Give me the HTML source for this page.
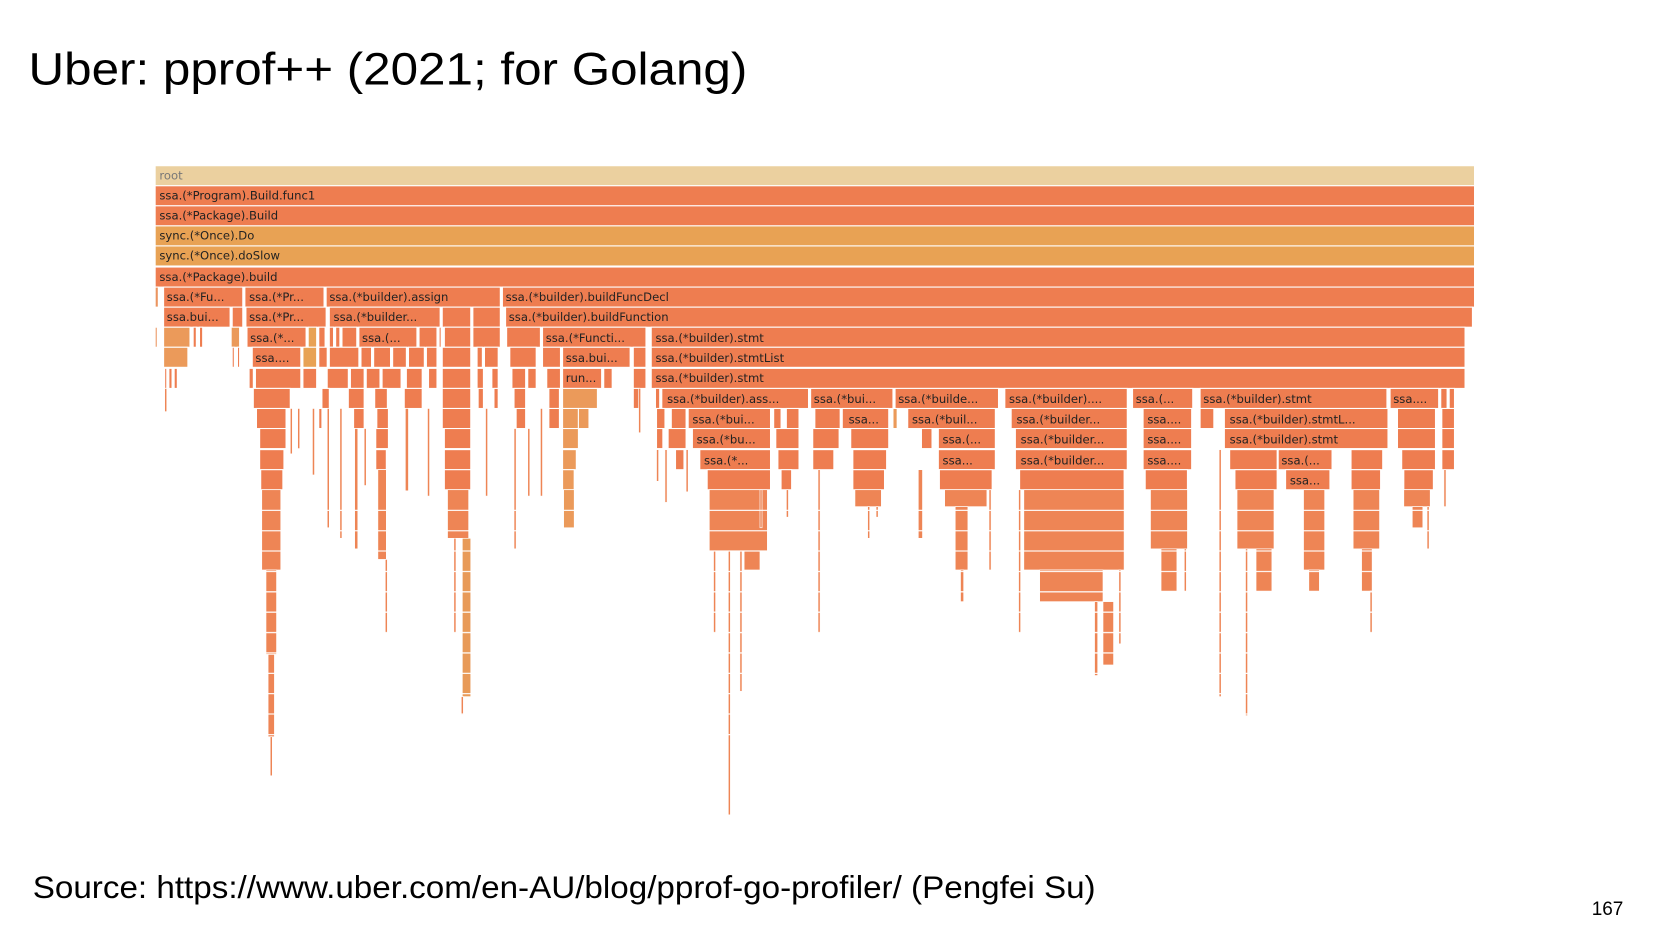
<!DOCTYPE html>
<html><head><meta charset="utf-8"><style>
html,body{margin:0;padding:0;background:#fff;width:1654px;height:931px;overflow:hidden}
#w{width:1560px;height:878px;transform:scale(1.0555);transform-origin:0 0}
svg{display:block}
.l{font-family:"DejaVu Sans",sans-serif;font-size:11px;fill:#222}
</style></head><body><div id="w">
<svg width="1560" height="878" viewBox="0 0 1560 878" xmlns="http://www.w3.org/2000/svg">
<text x="27" y="80" font-family="Liberation Sans, sans-serif" font-size="43" fill="#000" textLength="681" lengthAdjust="spacingAndGlyphs">Uber: pprof++ (2021; for Golang)</text>
<g stroke="#fff" stroke-width="1" fill="#ee7d50">
<rect x="147" y="157" width="1250" height="19" fill="#ebd09f"/>
<rect x="147" y="176" width="1250" height="19"/>
<rect x="147" y="195" width="1250" height="19"/>
<rect x="147" y="214" width="1250" height="19" fill="#e8a254"/>
<rect x="147" y="233" width="1250" height="19" fill="#e8a254"/>
<rect x="147" y="253" width="1250" height="19"/>
<rect x="147" y="272" width="3" height="19" fill="#eb9560"/><rect x="155" y="272" width="75" height="19"/><rect x="232" y="272" width="75" height="19"/><rect x="309" y="272" width="165" height="19"/><rect x="476" y="272" width="921" height="19"/>
<rect x="155" y="291" width="63" height="19"/><rect x="220" y="291" width="10" height="19"/><rect x="233" y="291" width="76" height="19"/><rect x="312" y="291" width="105" height="19"/><rect x="419" y="291" width="27" height="19"/><rect x="448" y="291" width="26" height="19"/><rect x="479" y="291" width="916" height="19"/>
<rect x="147" y="310" width="2" height="19" fill="#eb9560"/><rect x="155" y="310" width="25" height="19" fill="#eb9a5a"/><rect x="183" y="310" width="3" height="19"/><rect x="189" y="310" width="3" height="19"/><rect x="219" y="310" width="8" height="19" fill="#eb9a5a"/><rect x="234" y="310" width="56" height="19"/><rect x="292" y="310" width="8" height="19" fill="#e8a254"/><rect x="302" y="310" width="6" height="19"/><rect x="312" y="310" width="4" height="19"/><rect x="318" y="310" width="4" height="19"/><rect x="324" y="310" width="14" height="19"/><rect x="340" y="310" width="55" height="19"/><rect x="397" y="310" width="17" height="19"/><rect x="416" y="310" width="2" height="19"/><rect x="421" y="310" width="25" height="19"/><rect x="448" y="310" width="26" height="19"/><rect x="480" y="310" width="32" height="19"/><rect x="514" y="310" width="98" height="19"/><rect x="617" y="310" width="771" height="19"/>
<rect x="155" y="329" width="23" height="19" fill="#eb9a5a"/><rect x="220" y="329" width="2" height="19"/><rect x="225" y="329" width="2" height="19"/><rect x="239" y="329" width="46" height="19"/><rect x="287" y="329" width="13" height="19" fill="#e8a254"/><rect x="302" y="329" width="8" height="19"/><rect x="312" y="329" width="28" height="19"/><rect x="342" y="329" width="10" height="19"/><rect x="354" y="329" width="16" height="19"/><rect x="372" y="329" width="13" height="19"/><rect x="387" y="329" width="15" height="19"/><rect x="404" y="329" width="10" height="19"/><rect x="419" y="329" width="27" height="19"/><rect x="452" y="329" width="5" height="19"/><rect x="459" y="329" width="13" height="19"/><rect x="483" y="329" width="25" height="19"/><rect x="514" y="329" width="17" height="19"/><rect x="533" y="329" width="64" height="19"/><rect x="600" y="329" width="12" height="19"/><rect x="617" y="329" width="771" height="19"/>
<rect x="156" y="349" width="2" height="19"/><rect x="160" y="349" width="3" height="19"/><rect x="165" y="349" width="3" height="19"/><rect x="236" y="349" width="4" height="19"/><rect x="242" y="349" width="43" height="19"/><rect x="287" y="349" width="13" height="19"/><rect x="310" y="349" width="20" height="19"/><rect x="332" y="349" width="13" height="19"/><rect x="347" y="349" width="13" height="19"/><rect x="362" y="349" width="18" height="19"/><rect x="385" y="349" width="15" height="19"/><rect x="406" y="349" width="8" height="19"/><rect x="419" y="349" width="27" height="19"/><rect x="452" y="349" width="6" height="19"/><rect x="466" y="349" width="6" height="19"/><rect x="485" y="349" width="13" height="19"/><rect x="500" y="349" width="8" height="19"/><rect x="518" y="349" width="13" height="19"/><rect x="533" y="349" width="37" height="19"/><rect x="572" y="349" width="8" height="19"/><rect x="600" y="349" width="12" height="19"/><rect x="617" y="349" width="771" height="19"/>
<rect x="240" y="368" width="35" height="19"/><rect x="305" y="368" width="7" height="19"/><rect x="330" y="368" width="15" height="19"/><rect x="355" y="368" width="12" height="19"/><rect x="383" y="368" width="17" height="19"/><rect x="419" y="368" width="27" height="19"/><rect x="453" y="368" width="5" height="19"/><rect x="468" y="368" width="4" height="19"/><rect x="487" y="368" width="11" height="19"/><rect x="520" y="368" width="10" height="19"/><rect x="533" y="368" width="33" height="19" fill="#eb9a5a"/><rect x="600" y="368" width="6" height="19"/><rect x="621" y="368" width="4" height="19"/><rect x="627" y="368" width="139" height="19"/><rect x="768" y="368" width="78" height="19"/><rect x="848" y="368" width="98" height="19"/><rect x="952" y="368" width="116" height="19"/><rect x="1073" y="368" width="57" height="19"/><rect x="1137" y="368" width="177" height="19"/><rect x="1317" y="368" width="46" height="19"/><rect x="1365" y="368" width="6" height="19"/><rect x="1373" y="368" width="5" height="19"/>
<rect x="243" y="387" width="28" height="19"/><rect x="302" y="387" width="3" height="19"/><rect x="335" y="387" width="10" height="19"/><rect x="357" y="387" width="11" height="19"/><rect x="419" y="387" width="27" height="19"/><rect x="489" y="387" width="9" height="19"/><rect x="520" y="387" width="10" height="19"/><rect x="533" y="387" width="15" height="19" fill="#eb9a5a"/><rect x="548" y="387" width="10" height="19" fill="#eb9a5a"/><rect x="622" y="387" width="8" height="19"/><rect x="636" y="387" width="14" height="19"/><rect x="652" y="387" width="78" height="19"/><rect x="733" y="387" width="7" height="19"/><rect x="745" y="387" width="12" height="19"/><rect x="772" y="387" width="24" height="19"/><rect x="798" y="387" width="44" height="19"/><rect x="846" y="387" width="4" height="19" fill="#eb9a5a"/><rect x="860" y="387" width="83" height="19"/><rect x="958" y="387" width="110" height="19"/><rect x="1083" y="387" width="46" height="19"/><rect x="1137" y="387" width="13" height="19"/><rect x="1160" y="387" width="155" height="19"/><rect x="1324" y="387" width="36" height="19"/><rect x="1366" y="387" width="12" height="19"/>
<rect x="246" y="406" width="25" height="19"/><rect x="356" y="406" width="12" height="19"/><rect x="421" y="406" width="25" height="19"/><rect x="533" y="406" width="15" height="19" fill="#eb9a5a"/><rect x="622" y="406" width="6" height="19"/><rect x="633" y="406" width="17" height="19"/><rect x="656" y="406" width="74" height="19"/><rect x="735" y="406" width="22" height="19"/><rect x="770" y="406" width="25" height="19"/><rect x="806" y="406" width="36" height="19"/><rect x="873" y="406" width="10" height="19"/><rect x="889" y="406" width="54" height="19"/><rect x="962" y="406" width="106" height="19"/><rect x="1083" y="406" width="46" height="19"/><rect x="1160" y="406" width="155" height="19"/><rect x="1324" y="406" width="36" height="19"/><rect x="1366" y="406" width="12" height="19"/>
<rect x="246" y="426" width="23" height="19"/><rect x="356" y="426" width="10" height="19"/><rect x="421" y="426" width="25" height="19"/><rect x="533" y="426" width="13" height="19" fill="#eb9a5a"/><rect x="640" y="426" width="8" height="19"/><rect x="663" y="426" width="67" height="19"/><rect x="737" y="426" width="20" height="19"/><rect x="770" y="426" width="20" height="19"/><rect x="808" y="426" width="32" height="19"/><rect x="889" y="426" width="54" height="19"/><rect x="962" y="426" width="106" height="19"/><rect x="1083" y="426" width="46" height="19"/><rect x="1165" y="426" width="45" height="19"/><rect x="1211" y="426" width="51" height="19"/><rect x="1280" y="426" width="30" height="19"/><rect x="1328" y="426" width="32" height="19"/><rect x="1366" y="426" width="12" height="19"/>
<rect x="247" y="445" width="21" height="19"/><rect x="421" y="445" width="25" height="19"/><rect x="533" y="445" width="11" height="19" fill="#eb9a5a"/><rect x="670" y="445" width="60" height="19"/><rect x="740" y="445" width="10" height="19"/><rect x="808" y="445" width="30" height="19"/><rect x="890" y="445" width="50" height="19"/><rect x="966" y="445" width="99" height="19"/><rect x="1085" y="445" width="40" height="19"/><rect x="1170" y="445" width="40" height="19"/><rect x="1218" y="445" width="42" height="19"/><rect x="1280" y="445" width="28" height="19"/><rect x="1330" y="445" width="28" height="19"/>
</g>
<g fill="#ee8555" stroke="#fff" stroke-width="0.6">
<rect x="156" y="368" width="2" height="22"/><rect x="248" y="464" width="18" height="76"/><rect x="252" y="540" width="10" height="80"/><rect x="254" y="620" width="6" height="78"/><rect x="256" y="698" width="2" height="37"/>
<rect x="275" y="387" width="2" height="43"/><rect x="282" y="387" width="2" height="38"/><rect x="296" y="387" width="2" height="63"/><rect x="310" y="387" width="2" height="113"/><rect x="322" y="387" width="2" height="123"/><rect x="336" y="406" width="3" height="114"/><rect x="345" y="406" width="2" height="54"/><rect x="358" y="445" width="8" height="85"/><rect x="365" y="530" width="2" height="70"/><rect x="384" y="387" width="3" height="78"/><rect x="405" y="387" width="2" height="83"/>
<rect x="424" y="464" width="20" height="46"/><rect x="438" y="510" width="8" height="150" fill="#e89a58"/><rect x="437" y="660" width="2" height="17"/><rect x="430" y="510" width="2" height="90"/><rect x="460" y="387" width="2" height="83"/><rect x="487" y="406" width="2" height="114"/><rect x="500" y="406" width="2" height="64"/><rect x="512" y="387" width="2" height="83"/><rect x="534" y="464" width="10" height="36" fill="#eb9a5a"/><rect x="605" y="368" width="2" height="42"/>
<rect x="622" y="426" width="2" height="30"/><rect x="630" y="426" width="2" height="50"/><rect x="650" y="426" width="2" height="40"/>
<rect x="672" y="464" width="55" height="58"/><rect x="676" y="522" width="2" height="78"/><rect x="690" y="522" width="2" height="250"/><rect x="701" y="522" width="2" height="133"/><rect x="705" y="522" width="15" height="18"/><rect x="720" y="464" width="2" height="36"/><rect x="745" y="464" width="2" height="26"/><rect x="775" y="445" width="2" height="155"/><rect x="810" y="464" width="25" height="16"/><rect x="822" y="480" width="2" height="30"/><rect x="830" y="480" width="2" height="10"/><rect x="870" y="445" width="4" height="65"/>
<rect x="895" y="464" width="40" height="16"/><rect x="905" y="480" width="12" height="60"/><rect x="910" y="540" width="3" height="30"/><rect x="937" y="464" width="2" height="76"/><rect x="965" y="464" width="2" height="136"/><rect x="970" y="464" width="95" height="76"/><rect x="985" y="540" width="60" height="30"/><rect x="1037" y="570" width="3" height="70"/><rect x="1045" y="570" width="10" height="60"/><rect x="1060" y="540" width="2" height="70"/>
<rect x="1090" y="464" width="35" height="56"/><rect x="1100" y="520" width="15" height="40"/><rect x="1122" y="520" width="2" height="40"/><rect x="1155" y="426" width="2" height="234"/><rect x="1172" y="464" width="35" height="56"/><rect x="1180" y="520" width="2" height="158"/><rect x="1190" y="520" width="15" height="40"/><rect x="1235" y="464" width="20" height="76"/><rect x="1240" y="540" width="10" height="20"/><rect x="1282" y="464" width="25" height="56"/><rect x="1290" y="520" width="10" height="40"/><rect x="1298" y="560" width="2" height="40"/><rect x="1330" y="464" width="25" height="16"/><rect x="1338" y="480" width="10" height="20"/><rect x="1352" y="480" width="2" height="40"/><rect x="1368" y="445" width="2" height="35"/>
</g>
<g stroke="#fff" stroke-width="1.2" opacity="0.9">
<line x1="140" x2="1400" y1="483.5" y2="483.5"/><line x1="140" x2="1400" y1="502.8" y2="502.8"/><line x1="140" x2="1400" y1="522" y2="522"/><line x1="140" x2="1400" y1="541.4" y2="541.4"/><line x1="140" x2="1400" y1="560.7" y2="560.7"/><line x1="140" x2="1400" y1="580" y2="580"/><line x1="140" x2="1400" y1="599.3" y2="599.3"/><line x1="140" x2="1400" y1="618.6" y2="618.6"/><line x1="140" x2="1400" y1="638" y2="638"/><line x1="140" x2="1400" y1="657.2" y2="657.2"/><line x1="140" x2="1400" y1="676.5" y2="676.5"/><line x1="140" x2="1400" y1="696" y2="696"/>
</g>
<g class="l">
<text x="151" y="170" fill="#777">root</text>
<text x="151" y="189">ssa.(*Program).Build.func1</text>
<text x="151" y="208">ssa.(*Package).Build</text>
<text x="151" y="227">sync.(*Once).Do</text>
<text x="151" y="246">sync.(*Once).doSlow</text>
<text x="151" y="266">ssa.(*Package).build</text>
<text x="158" y="285">ssa.(*Fu...</text><text x="236" y="285">ssa.(*Pr...</text><text x="312" y="285">ssa.(*builder).assign</text><text x="479" y="285">ssa.(*builder).buildFuncDecl</text>
<text x="158" y="304">ssa.bui...</text><text x="236" y="304">ssa.(*Pr...</text><text x="316" y="304">ssa.(*builder...</text><text x="482" y="304">ssa.(*builder).buildFunction</text>
<text x="237" y="324">ssa.(*...</text><text x="343" y="324">ssa.(...</text><text x="517" y="324">ssa.(*Functi...</text><text x="621" y="324">ssa.(*builder).stmt</text>
<text x="242" y="343">ssa....</text><text x="536" y="343">ssa.bui...</text><text x="621" y="343">ssa.(*builder).stmtList</text>
<text x="536" y="362">run...</text><text x="621" y="362">ssa.(*builder).stmt</text>
<text x="632" y="382">ssa.(*builder).ass...</text><text x="771" y="382">ssa.(*bui...</text><text x="851" y="382">ssa.(*builde...</text><text x="956" y="382">ssa.(*builder)....</text><text x="1076" y="382">ssa.(...</text><text x="1140" y="382">ssa.(*builder).stmt</text><text x="1320" y="382">ssa....</text>
<text x="656" y="401">ssa.(*bui...</text><text x="804" y="401">ssa...</text><text x="864" y="401">ssa.(*buil...</text><text x="963" y="401">ssa.(*builder...</text><text x="1087" y="401">ssa....</text><text x="1165" y="401">ssa.(*builder).stmtL...</text>
<text x="660" y="420">ssa.(*bu...</text><text x="893" y="420">ssa.(...</text><text x="967" y="420">ssa.(*builder...</text><text x="1087" y="420">ssa....</text><text x="1165" y="420">ssa.(*builder).stmt</text>
<text x="667" y="440">ssa.(*...</text><text x="893" y="440">ssa...</text><text x="967" y="440">ssa.(*builder...</text><text x="1087" y="440">ssa....</text><text x="1214" y="440">ssa.(...</text>
<text x="1222" y="459">ssa...</text>
</g>
<text x="31" y="851" font-family="Liberation Sans, sans-serif" font-size="30" fill="#000" textLength="1007" lengthAdjust="spacingAndGlyphs">Source: https://www.uber.com/en-AU/blog/pprof-go-profiler/ (Pengfei Su)</text>
<text x="1508" y="867" font-family="Liberation Sans, sans-serif" font-size="18" fill="#000">167</text>
</svg></div></body></html>
